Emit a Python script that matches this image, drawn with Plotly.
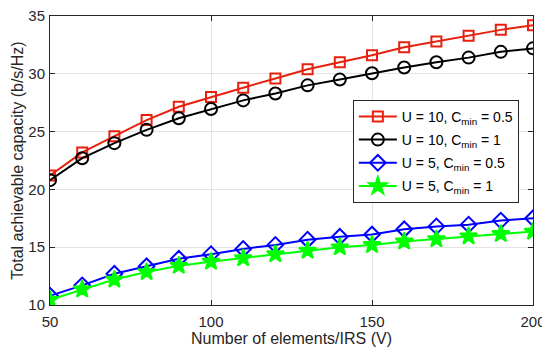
import plotly.graph_objects as go

V = [50, 60, 70, 80, 90, 100, 110, 120, 130, 140, 150, 160, 170, 180, 190, 200]
u10_c05 = [21.2, 23.2, 24.6, 26.0, 27.15, 28.0, 28.8, 29.6, 30.4, 31.0, 31.6, 32.3, 32.8, 33.3, 33.8, 34.2]
u10_c1 = [20.8, 22.7, 24.0, 25.15, 26.15, 26.95, 27.7, 28.3, 29.0, 29.5, 30.05, 30.55, 31.0, 31.4, 31.9, 32.2]
u5_c05 = [10.8, 11.7, 12.7, 13.35, 14.0, 14.4, 14.85, 15.2, 15.65, 15.9, 16.1, 16.55, 16.8, 16.95, 17.3, 17.5]
u5_c1 = [10.45, 11.35, 12.2, 12.85, 13.4, 13.75, 14.05, 14.4, 14.7, 15.0, 15.2, 15.5, 15.7, 15.95, 16.15, 16.35]

series = [
    ("U = 10, C<sub>min</sub> = 0.5", u10_c05, "#e8210f", "square-open", 10),
    ("U = 10, C<sub>min</sub> = 1", u10_c1, "#000000", "circle-open", 12),
    ("U = 5, C<sub>min</sub> = 0.5", u5_c05, "#0000ff", "diamond-open", 12),
    ("U = 5, C<sub>min</sub> = 1", u5_c1, "#00ff00", "star", 13),
]

fig = go.Figure()
for i, (name, ys, col, sym, sz) in enumerate(series):
    fig.add_trace(go.Scatter(
        x=V, y=ys, name=name, mode="lines+markers", legendgroup=f"g{i}",
        line=dict(color=col, width=2),
        marker=dict(symbol=sym, size=sz, color=col, line=dict(color=col, width=2)),
    ))

axis_common = dict(
    showline=True, linecolor="#262626", linewidth=1, mirror="ticks",
    ticks="inside", ticklen=5, tickcolor="#262626", automargin=False,
    ticklabeloverflow="allow",
    showgrid=True, gridcolor="#e3e3e3", gridwidth=1, zeroline=False,
    tickfont=dict(family="Liberation Sans, Arial", size=15, color="#262626"),
)

# page body has an 8px default margin, so the figure is sized to fit the window
fig.update_layout(
    width=542, height=347,
    margin=dict(l=42, r=17, t=8, b=50),
    paper_bgcolor="white", plot_bgcolor="white",
    font=dict(family="Liberation Sans, Arial", color="#262626"),
    xaxis=dict(range=[50, 200], tickvals=[50, 100, 150, 200], ticklabelstandoff=3,
               title=dict(text="Number of elements/IRS (V)", font=dict(size=16), standoff=0),
               **axis_common),
    yaxis=dict(range=[10, 35], tickvals=[10, 15, 20, 25, 30, 35], ticklabelstandoff=1,
               title=dict(text="Total achievable capacity (b/s/Hz)", font=dict(size=16), standoff=0),
               **axis_common),
    legend=dict(x=0.627, y=0.71, xanchor="left", yanchor="top",
                bgcolor="white", bordercolor="#262626", borderwidth=1, itemwidth=38,
                font=dict(size=14, color="#000000"), tracegroupgap=2),
    showlegend=True,
)

fig.write_html("out.html")
